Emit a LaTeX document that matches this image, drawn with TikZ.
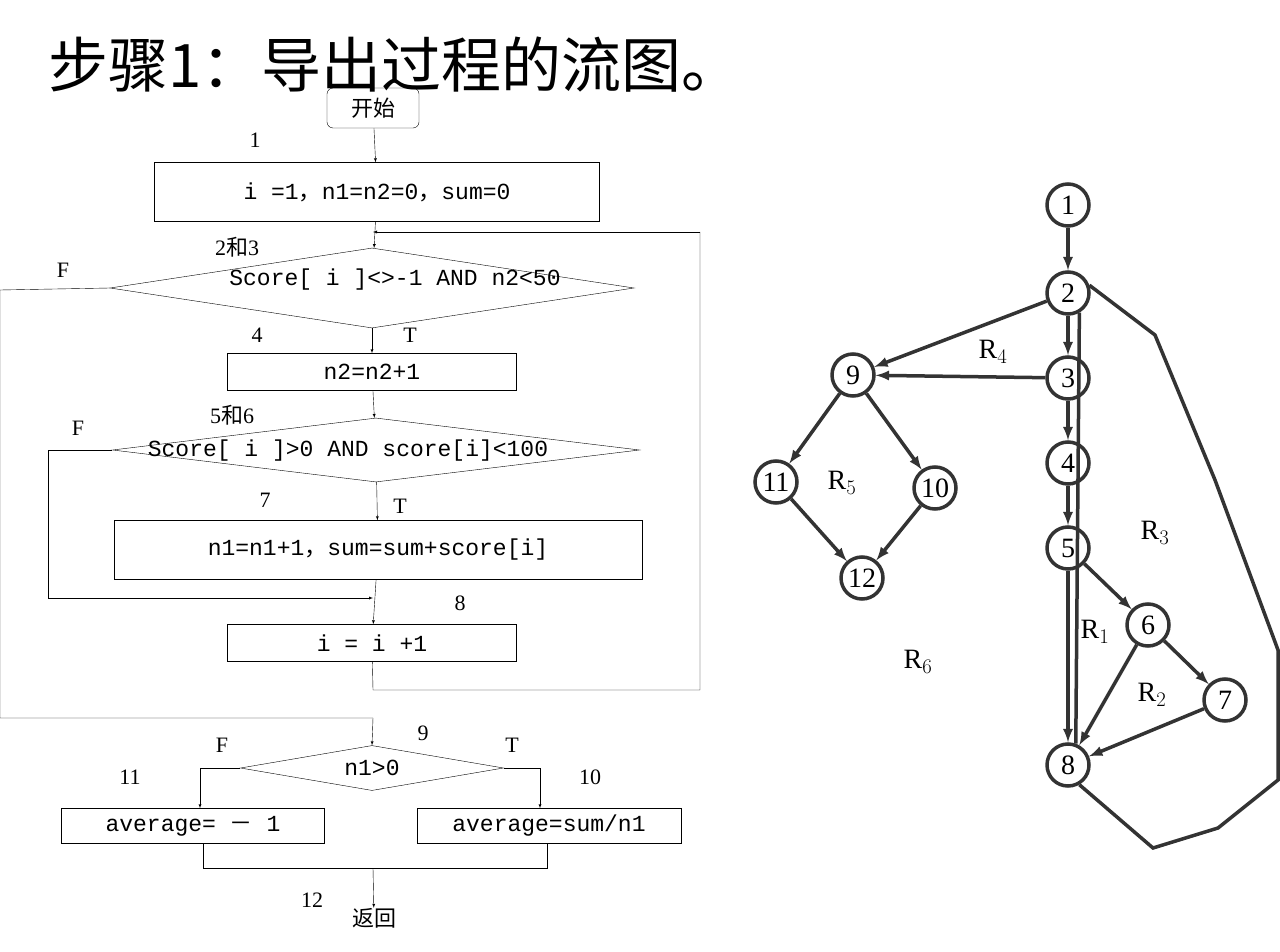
\documentclass[tikz,border=0pt]{standalone}
\usepackage{fontspec}
\setmainfont{Liberation Serif}
\setmonofont{Liberation Mono}
\newfontfamily\cjk{Noto Sans CJK SC}
\usetikzlibrary{shapes.geometric}
\newcommand{\fw}[1]{{\cjk #1}}
\begin{document}
\begin{tikzpicture}[x=1pt,y=-1pt,font=\fontsize{22}{24}\selectfont,
	box/.style={draw,thin,minimum height=#1,inner sep=0pt,font=\fontsize{23}{24}\selectfont\ttfamily},
	dec/.style={draw,thin,diamond,aspect=5,inner sep=0pt},
	dtxt/.style={inner sep=0pt,font=\fontsize{23}{24}\selectfont\ttfamily},
	flow/.style={thin,-latex},
	vtx/.style={draw=black!80,line width=3.5pt,circle,minimum size=42pt,inner sep=0pt,font=\fontsize{28}{30}\selectfont},
	edge/.style={draw=black!80,line width=3.5pt,-latex},
	lbl/.style={inner sep=0pt}]
	\useasboundingbox (0,0) rectangle (1280,952);

	\node[lbl,anchor=west] (title) at (48,65) {\fontsize{60}{64}\selectfont\cjk 步骤1：导出过程的流图。};

	% flowchart
	\node[draw,thin,rounded corners=6pt,minimum width=92pt,minimum height=40pt] (start) at (373,108) {\cjk 开始};
	\node[box=59pt,minimum width=445pt] (b1) at (377,192) {i =1\fw{，}n1=n2=0\fw{，}sum=0};
	\node[dec,minimum width=524pt,minimum height=80pt] (d23) at (372,288) {};
	\node[dtxt] at (395,280) {Score[ i ]<>-1 AND n2<50};
	\node[box=37pt,minimum width=289pt] (b4) at (372,372) {n2=n2+1};
	\node[dec,minimum width=527pt,minimum height=64pt] (d56) at (376,450) {};
	\node[dtxt] at (348,451) {Score[ i ]>0 AND score[i]<100};
	\node[box=59pt,minimum width=528pt] (b7) at (378,550) {n1=n1+1\fw{，}sum=sum+score[i]};
	\node[box=37pt,minimum width=289pt] (b8) at (372,643) {i = i +1};
	\node[dec,minimum width=263pt,minimum height=45pt,font=\fontsize{23}{24}\selectfont\ttfamily] (d9) at (372,768) {n1>0};
	\node[box=35pt,minimum width=263pt] (b11) at (193,826) {average= \fw{－} 1};
	\node[box=35pt,minimum width=264pt] (b10) at (549,826) {average=sum/n1};
	\node[lbl,font=\fontsize{22}{24}\selectfont\cjk] (ret) at (374,918) {返回};

	\foreach \t/\x/\y in {1/255/140, 2\fw{和}3/237/247, F/63/270, 4/257/335, T/410/335, 5\fw{和}6/232/415, F/78/428,
		7/265/500, T/400/506, 8/460/603, 9/423/733, F/222/745, T/512/745, 11/130/777, 10/590/777, 12/312/900}
		\node[lbl] at (\x,\y) {\t};

	\coordinate (loop) at (373,690);
	\coordinate (join) at (373,868);
	\draw[flow] (start) -- (b1);
	\draw[flow] (b1) -- (d23);
	\draw[flow] (d23) -- (b4);
	\draw[flow] (b4) -- (d56);
	\draw[flow] (d56) -- (b7);
	\draw[flow] (b7) -- (b8);
	\draw[thin] (b8) -- (loop) -- (700,690) -- (700,232);
	\draw[flow] (700,232) -- (373,232);
	\draw[thin] (d23.west) -- (0,290) -- (0,718) -- (373,718);
	\draw[flow] (373,718) -- (d9.north);
	\draw[thin] (d56.west) -- (48,450) -- (48,598);
	\draw[flow] (48,598) -- (373,598);
	\draw[thin] (d9.west) -- (200,768);
	\draw[flow] (200,768) -- (b11.north -| 200,0);
	\draw[thin] (d9.east) -- (540,768);
	\draw[flow] (540,768) -- (b10.north -| 540,0);
	\draw[thin] (203,843) -- (203,868) -- (547,868) -- (547,843);
	\draw[flow] (join) -- (ret);

	% flow graph
	\foreach \n/\x/\y in {1/1068/205, 2/1068/293, 3/1068/378, 4/1068/463, 5/1068/548, 6/1148/625,
		7/1225/700, 8/1068/765, 9/853/375, 10/935/488, 11/776/482, 12/862/578}
		\node[vtx] (n\n) at (\x,\y) {\n};
	\foreach \a/\b in {1/2, 2/3, 3/4, 4/5, 5/6, 6/7, 7/8, 6/8, 5/8, 2/9, 3/9, 9/11, 9/10, 11/12, 10/12}
		\draw[edge] (n\a) -- (n\b);
	\draw[draw=black!80,line width=3.5pt] (n2.-60) -- (n8.70);
	\draw[draw=black!80,line width=3.5pt] (n2.20) -- (1155,335) -- (1215,480) -- (1278,650) -- (1278,780)
		-- (1218,828) -- (1153,848) -- (n8.-60);

	\foreach \t/\x/\y in {4/993/352, 5/842/483, 3/1155/533, 1/1095/632, 2/1152/695, 6/918/662}
		\node[lbl,font=\fontsize{28}{30}\selectfont] at (\x,\y) {R$_{\t}$};
\end{tikzpicture}
\end{document}
